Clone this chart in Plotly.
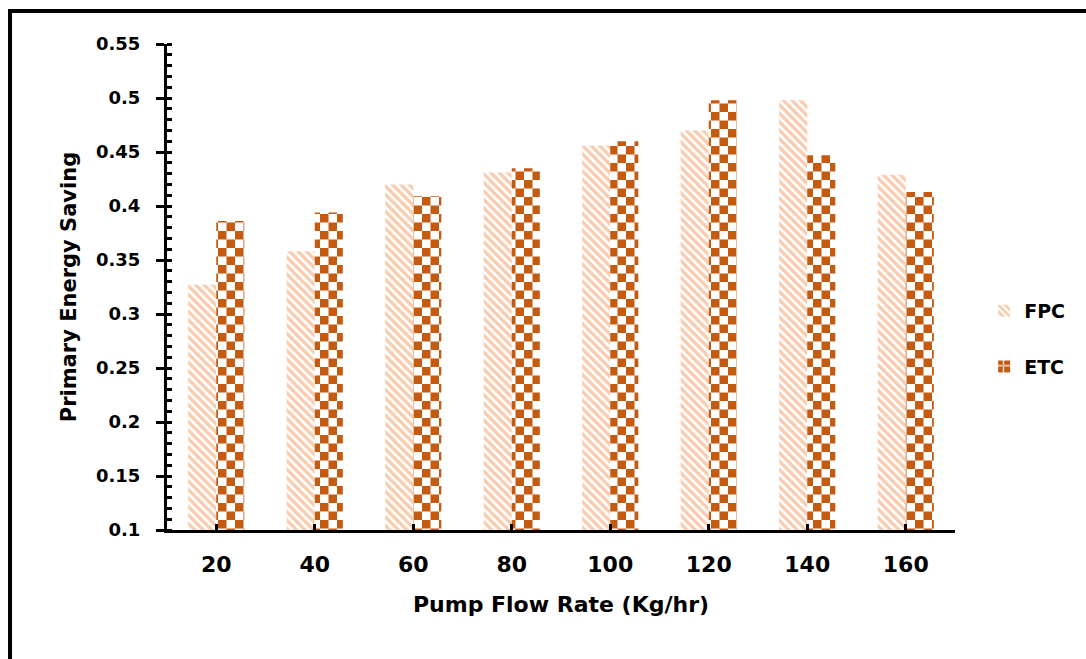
import plotly.graph_objects as go

categories = ["20", "40", "60", "80", "100", "120", "140", "160"]
fpc = [0.327, 0.358, 0.420, 0.431, 0.456, 0.470, 0.498, 0.429]
etc = [0.386, 0.394, 0.409, 0.435, 0.460, 0.498, 0.447, 0.413]
series_names = ["FPC", "ETC"]

xpos = list(range(len(categories)))
FONT = "DejaVu Sans"

fig = go.Figure()
fig.add_trace(go.Bar(
    x=xpos, y=fpc, name=series_names[0], legendgroup="a",
    marker=dict(color="white", line=dict(width=0),
                pattern=dict(shape="\\", fgcolor="#F8CBAD", bgcolor="white",
                             size=6, solidity=0.55, fillmode="replace")),
))
fig.add_trace(go.Bar(
    x=xpos, y=etc, name=series_names[1], legendgroup="b",
    marker=dict(color="white", line=dict(width=0),
                pattern=dict(path="M0,0H8.5V8.5H0Z M8.5,8.5H17V17H8.5Z",
                             fgcolor="#C55A11", bgcolor="white",
                             size=17, solidity=1, fillmode="replace")),
))

fig.update_layout(
    width=1086, height=659,
    margin=dict(l=167, r=131, t=44, b=129, autoexpand=False),
    paper_bgcolor="white", plot_bgcolor="white",
    barmode="group", bargap=0.43, bargroupgap=0,
    font=dict(family=FONT, color="black"),
    showlegend=True,
    legend=dict(x=1.037, y=0.49, xanchor="left", yanchor="top",
                traceorder="grouped", tracegroupgap=28, itemwidth=30,
                font=dict(size=19, family=FONT, weight="bold"),
                bgcolor="rgba(0,0,0,0)"),
    xaxis=dict(
        range=[-0.5, 7.5], tickmode="array",
        tickvals=xpos + [7.5], ticktext=categories + [""],
        ticks="inside", ticklen=6, tickwidth=3, tickcolor="black",
        showline=True, linecolor="black", linewidth=3,
        showgrid=False, zeroline=False,
        tickfont=dict(size=22, family=FONT, weight="bold"),
        ticklabelstandoff=13,
        title=dict(text="Pump Flow Rate (Kg/hr)", standoff=21,
                   font=dict(size=22, family=FONT, weight="bold")),
    ),
    yaxis=dict(
        range=[0.1, 0.55], tickmode="linear", tick0=0.1, dtick=0.05,
        ticks="outside", ticklen=8, tickwidth=3, tickcolor="black",
        showline=True, linecolor="black", linewidth=3,
        showgrid=False, zeroline=False,
        minor=dict(dtick=0.01, ticks="inside", ticklen=5, tickwidth=3,
                   tickcolor="black", showgrid=False),
        tickfont=dict(size=18, family=FONT, weight="bold"),
        ticklabelstandoff=12,
        title=dict(text="Primary Energy Saving", standoff=14,
                   font=dict(size=21, family=FONT, weight="bold")),
    ),
    shapes=[dict(type="rect", xref="paper", yref="paper",
                 x0=-0.1992, x1=1.25, y0=-0.35, y1=1.068,
                 line=dict(color="black", width=4), fillcolor="rgba(0,0,0,0)",
                 layer="above")],
)

fig.write_html("out.html")
